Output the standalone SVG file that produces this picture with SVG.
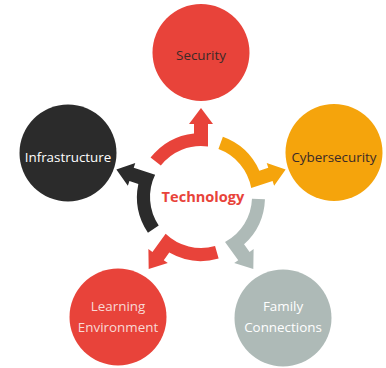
<svg xmlns="http://www.w3.org/2000/svg" width="386" height="368" viewBox="0 0 386 368">
<style>
.lbl{font-family:"Open Sans","Liberation Sans",sans-serif;font-size:13.4px;text-anchor:middle}
.dark{fill:#3a2a28}
.light{fill:#ffffff}
.pink{fill:#f8d9d5}
.hub{font-family:"Open Sans","Liberation Sans",sans-serif;font-size:14.6px;font-weight:bold;fill:#e8433a;text-anchor:middle}
</style>
<defs>
<path id="seg" d="M -50.43,-39.40 A 64 64 0 0 1 -7,-63.62 L -7,-73 L -12,-73 L 0,-89 L 12,-73 L 7,-73 L 7,-50.52 A 51 51 0 0 0 -40.19,-31.40 Z"/>
</defs>
<rect width="386" height="368" fill="#ffffff"/>
<g id="connectors">
<use href="#seg" fill="#e8433a" transform="translate(201,197)"/>
<use href="#seg" fill="#f5a40c" transform="translate(201,197) rotate(72)"/>
<use href="#seg" fill="#aebab7" transform="translate(201,197) rotate(144)"/>
<use href="#seg" fill="#e8433a" transform="translate(201,197) rotate(216)"/>
<use href="#seg" fill="#2b2b2b" transform="translate(201,197) rotate(288)"/>
</g>
<g id="hub">
<text class="hub" x="203" y="202">Technology</text>
</g>
<g id="security">
<circle cx="201" cy="52.5" r="48.5" fill="#e8433a"/>
<text class="lbl dark" x="201" y="60">Security</text>
</g>
<g id="cybersecurity">
<circle cx="334" cy="152.5" r="48.5" fill="#f5a40c"/>
<text class="lbl dark" x="334" y="162">Cybersecurity</text>
</g>
<g id="family">
<circle cx="283" cy="318" r="48.5" fill="#aebab7"/>
<text class="lbl light" x="283" y="311">Family</text>
<text class="lbl light" x="283" y="332">Connections</text>
</g>
<g id="learning">
<circle cx="118" cy="317" r="48.5" fill="#e8433a"/>
<text class="lbl pink" x="118" y="311">Learning</text>
<text class="lbl pink" x="118" y="332">Environment</text>
</g>
<g id="infrastructure">
<circle cx="68" cy="153" r="48.5" fill="#2b2b2b"/>
<text class="lbl light" x="68" y="162">Infrastructure</text>
</g>
</svg>
